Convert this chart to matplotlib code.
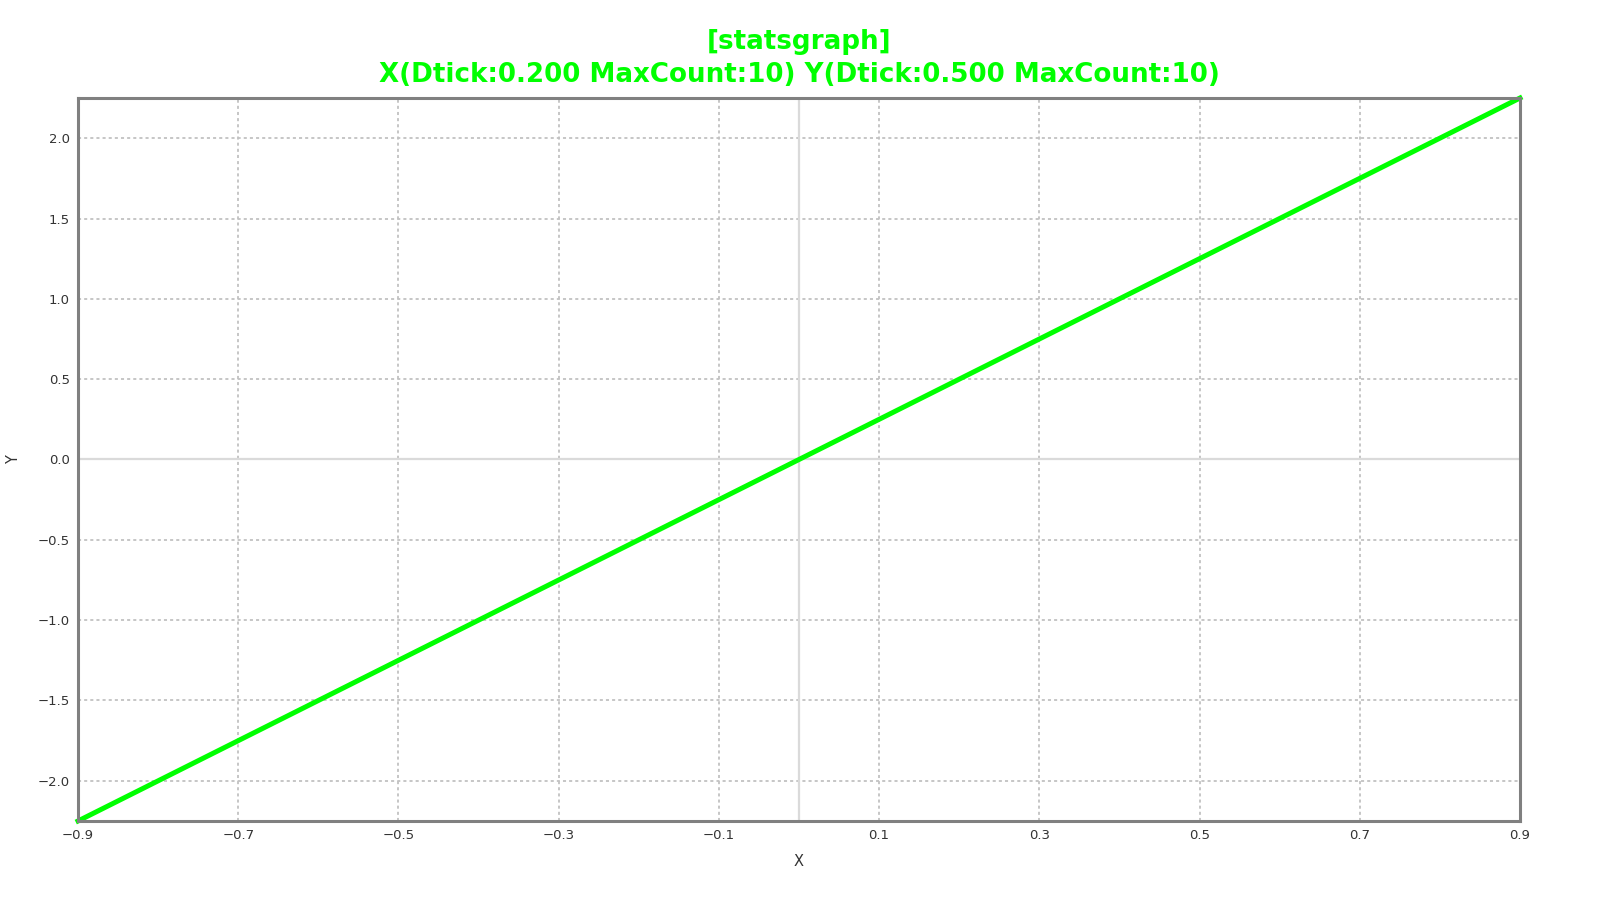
import numpy as np
import matplotlib
matplotlib.use('Agg')
from matplotlib import pyplot as plt

# data
x_vals = [-0.9, 0.0, 0.9]
y_vals = [-2.25, 0.0, 2.25]
x_ticks = [-0.9, -0.7, -0.5, -0.3, -0.1, 0.1, 0.3, 0.5, 0.7, 0.9]
y_ticks = [-2.0, -1.5, -1.0, -0.5, 0.0, 0.5, 1.0, 1.5, 2.0]
title_1 = '[statsgraph]'
title_2 = 'X(Dtick:0.200 MaxCount:10) Y(Dtick:0.500 MaxCount:10)'

plt.rcParams['font.family'] = ['DejaVu Sans']

fig = plt.figure(figsize=(16, 9), dpi=100)
ax = fig.add_axes([0.04875, 0.08778, 0.90125, 0.80333])

ax.set_xlim(-0.9, 0.9)
ax.set_ylim(-2.25, 2.25)
ax.set_xticks(x_ticks)
ax.set_yticks(y_ticks)
ax.set_xticklabels([f'{v:.1f}'.replace('-', '\u2212') for v in x_ticks])
ax.set_yticklabels([f'{v:.1f}'.replace('-', '\u2212') for v in y_ticks])
ax.tick_params(length=0, pad=6, labelsize=9.5, labelcolor='#333333')

ax.grid(True, color='#c2c2c2', linewidth=1.3, linestyle=(0, (1.7, 1.7)))
ax.set_axisbelow(True)
# solid zero lines drawn over the dotted grid
ax.axhline(0, color='#dadada', linewidth=1.6, zorder=1.5)
ax.axvline(0, color='#dadada', linewidth=1.6, zorder=1.5)

ax.plot(x_vals, y_vals, color='#00ff00', linewidth=3.6, zorder=3, clip_on=False)

for s in ax.spines.values():
    s.set_color('#808080')
    s.set_linewidth(2.2)
    s.set_zorder(4)

ax.set_xlabel('X', fontsize=10.5, color='#333333')
ax.set_ylabel('Y', fontsize=10.5, color='#333333')
ax.xaxis.set_label_coords(0.5, -0.0567)
ax.yaxis.set_label_coords(-0.045, 0.5)
ax.xaxis.label.set_va('center')
ax.yaxis.label.set_va('center')

fig.text(0.4994, 0.9535, title_1, ha='center', va='center',
         fontsize=18.8, fontweight='bold', color='#00ff00')
fig.text(0.4994, 0.9165, title_2, ha='center', va='center',
         fontsize=18.8, fontweight='bold', color='#00ff00')

fig.savefig('out.png', dpi=100, facecolor='white')
